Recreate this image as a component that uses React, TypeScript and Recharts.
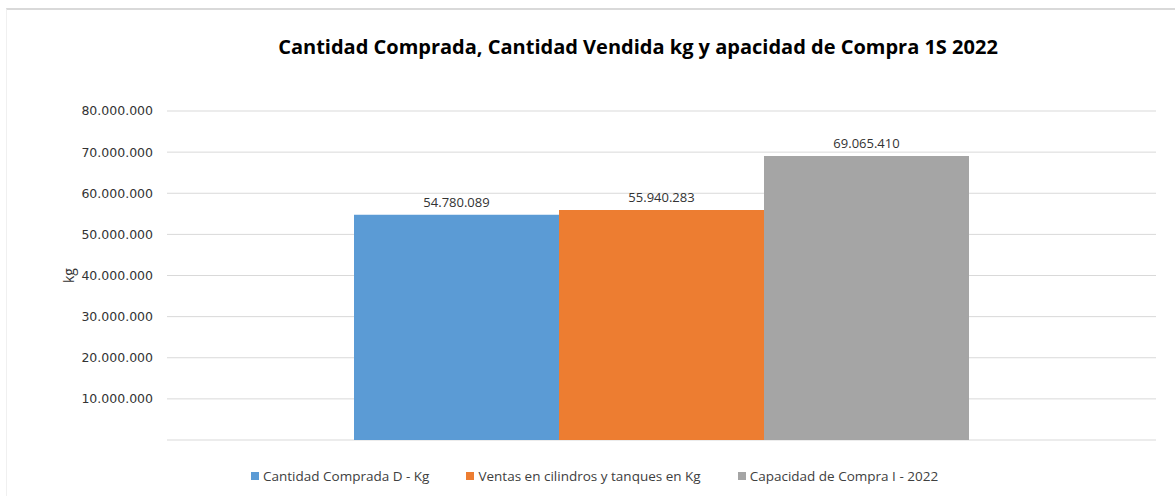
import React from 'react';
import { BarChart, Bar, XAxis, YAxis, CartesianGrid, Legend, LabelList } from 'recharts';

const categories = ['1S 2022'];
const seriesKeys = ['compra', 'ventas', 'capacidad'];
const seriesNames = [
  'Cantidad Comprada D - Kg',
  'Ventas en cilindros y tanques en Kg',
  'Capacidad de Compra I - 2022',
];
const compraValues = [54780089];
const ventasValues = [55940283];
const capacidadValues = [69065410];
const seriesColors = ['#5b9bd5', '#ed7d31', '#a5a5a5'];
const yTicks = [0, 10000000, 20000000, 30000000, 40000000, 50000000, 60000000, 70000000, 80000000];
const title = 'Cantidad Comprada, Cantidad Vendida kg y apacidad de Compra 1S 2022';
const yLabel = 'kg';

const data = categories.map((c, i) => ({
  name: c,
  compra: compraValues[i],
  ventas: ventasValues[i],
  capacidad: capacidadValues[i],
}));

const fmt = (v: number) => String(Math.round(v)).replace(/\B(?=(\d{3})+(?!\d))/g, '.');

const LegendContent = (props: any) => {
  const payload = [...(props.payload || [])].sort(
    (a: any, b: any) => seriesNames.indexOf(a.value) - seriesNames.indexOf(b.value)
  );
  return (
    <div style={{ display: 'flex', alignItems: 'center', height: 16, gap: 37, whiteSpace: 'nowrap' }}>
      {payload.map((p: any, i: number) => (
        <div key={i} style={{ display: 'flex', alignItems: 'center' }}>
          <span style={{ display: 'inline-block', width: 8, height: 8, background: p.color, marginRight: 4 }} />
          <span style={{ fontFamily: 'Open Sans', fontSize: 13.5, color: '#404040' }}>{p.value}</span>
        </div>
      ))}
    </div>
  );
};

export default function App() {
  return (
    <div style={{ position: 'absolute', left: 0, top: 0, width: 1175, height: 496, background: '#fff', overflow: 'hidden' }}>
      <div style={{ position: 'absolute', left: 6, top: 8, width: 1300, height: 600, borderTop: '2px solid #d9d9d9', borderLeft: '1px solid #f0f0f0' }} />
      <div
        style={{
          position: 'absolute',
          left: 638,
          top: 33,
          transform: 'translateX(-50%)',
          whiteSpace: 'nowrap',
          fontFamily: 'Open Sans',
          fontWeight: 700,
          fontSize: 20,
          lineHeight: '28px',
          color: '#000',
        }}
      >
        {title}
      </div>
      <div style={{ position: 'absolute', left: 0, top: 0 }}>
        <BarChart
          width={1175}
          height={496}
          data={data}
          margin={{ top: 111, right: 19, left: 0, bottom: 40 }}
          barCategoryGap={187}
          barGap={0}
        >
          <CartesianGrid vertical={false} stroke="#d9d9d9" />
          <XAxis dataKey="name" hide />
          <YAxis
            width={167}
            domain={[0, 80000000]}
            ticks={yTicks}
            interval={0}
            axisLine={false}
            tickLine={false}
            tickSize={6}
            tickMargin={8}
            tickFormatter={(v: number) => (v === 0 ? '' : fmt(v))}
            tick={{ fontFamily: 'DejaVu Sans', fontSize: 12.5, fill: '#333333' }}
            label={{
              value: yLabel,
              angle: -90,
              position: 'center',
              dx: -14,
              style: { fontFamily: 'Open Sans', fontSize: 14, fill: '#333333' },
            }}
          />
          <Legend
            verticalAlign="bottom"
            align="left"
            content={<LegendContent />}
            wrapperStyle={{ top: 468, bottom: 'auto', left: 251, width: 'auto', height: 16 }}
          />
          {seriesKeys.map((k, i) => (
            <Bar key={k} dataKey={k} name={seriesNames[i]} fill={seriesColors[i]} isAnimationActive={false}>
              <LabelList
                dataKey={k}
                position="top"
                offset={8}
                formatter={(v: any) => fmt(Number(v))}
                style={{ fontFamily: 'Open Sans', fontSize: 13, fill: '#333333' }}
              />
            </Bar>
          ))}
        </BarChart>
      </div>
    </div>
  );
}
